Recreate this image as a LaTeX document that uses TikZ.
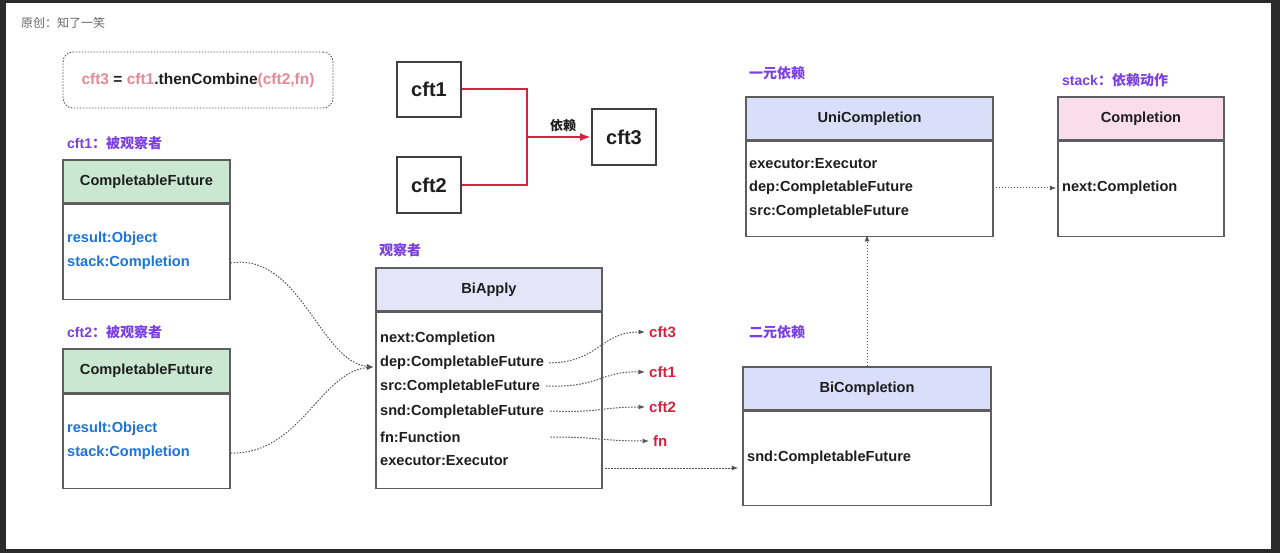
\documentclass[tikz,border=0pt]{standalone}
\usepackage{fontspec}
\setmainfont{Liberation Sans}
\newfontfamily\cjk{Noto Sans CJK SC}
\newcommand\zh[1]{{\cjk #1}}
\usetikzlibrary{arrows.meta}
\definecolor{framedark}{HTML}{2A2A2A}
\definecolor{bordergray}{HTML}{5E5E5E}
\definecolor{textdark}{HTML}{1E1E1E}
\definecolor{hdrgreen}{HTML}{C9E7D1}
\definecolor{hdrlav}{HTML}{E6E4F8}
\definecolor{hdrblue}{HTML}{D9DEF9}
\definecolor{hdrpink}{HTML}{FADDEA}
\definecolor{purp}{HTML}{7B3FE4}
\definecolor{fieldblue}{HTML}{1C74D8}
\definecolor{redc}{HTML}{D9213F}
\definecolor{pinkc}{HTML}{E58A95}
\definecolor{dotgray}{HTML}{555555}
\begin{document}
\begin{tikzpicture}[x=1pt,y=-1pt,
  hdr/.style={draw=bordergray, line width=1.2pt, inner sep=0pt, text=textdark,
    font=\bfseries\fontsize{14.6}{16}\selectfont},
  bodybox/.style={draw=bordergray, line width=1.2pt, fill=white, inner sep=0pt, anchor=north},
  fieldtxt/.style={anchor=west, inner sep=0pt, text=textdark, font=\bfseries\fontsize{14.6}{16}\selectfont},
  bluetxt/.style={fieldtxt, text=fieldblue},
  purplbl/.style={anchor=west, inner sep=0pt, text=purp, font=\bfseries\fontsize{14}{16}\selectfont},
  redlbl/.style={anchor=west, inner sep=0pt, text=redc, font=\bfseries\fontsize{15}{17}\selectfont},
  smallbox/.style={draw=textdark!85, line width=2pt, minimum width=64pt, inner sep=0pt,
    font=\bfseries\fontsize{20}{22}\selectfont, text=textdark},
  redline/.style={draw=redc, line width=2pt},
  dotarrow/.style={draw=dotgray, line width=1pt, dash pattern=on 1.5pt off 1.5pt,
    -{Latex[length=6.5pt,width=5pt]}}
]
\useasboundingbox (0,0) rectangle (1280,553);
\fill[framedark] (0,0) rectangle (1280,553);
\fill[white] (6,3) rectangle (1271,549);

% title
\node[anchor=west, inner sep=0pt, text=black!60, font=\fontsize{12}{14}\selectfont] (title) at (21,23) {\zh{原创：知了一笑}};

% equation box
\node[draw=dotgray, line width=0.9pt, dash pattern=on 1.5pt off 1.5pt, rounded corners=10pt,
  minimum width=270pt, minimum height=56pt, inner sep=0pt, text=textdark,
  font=\bfseries\fontsize{15.5}{18}\selectfont] (eq) at (198,80)
  {\textcolor{pinkc}{cft3} = \textcolor{pinkc}{cft1}.thenCombine\textcolor{pinkc}{(cft2,fn)}};

% cft1 observed
\node[purplbl] (l1) at (67,143) {cft1\zh{：被观察者}};
\node[hdr, fill=hdrgreen, minimum width=167pt, minimum height=43pt] (f1h) at (146.5,181.5) {CompletableFuture};
\node[bodybox, minimum width=167pt, minimum height=95pt] (f1b) at (f1h.south) {};
\node[bluetxt] (f1res) at (67,239) {result:Object};
\node[bluetxt] (f1stk) at (67,263) {stack:Completion};

% cft2 observed
\node[purplbl] (l2) at (67,332) {cft2\zh{：被观察者}};
\node[hdr, fill=hdrgreen, minimum width=167pt, minimum height=44pt] (f2h) at (146.5,371) {CompletableFuture};
\node[bodybox, minimum width=167pt, minimum height=94pt] (f2b) at (f2h.south) {};
\node[bluetxt] (f2res) at (67,429) {result:Object};
\node[bluetxt] (f2stk) at (67,453) {stack:Completion};

% small dependency boxes
\node[smallbox, minimum height=55pt] (c1) at (429,89.5) {cft1};
\node[smallbox, minimum height=56pt] (c2) at (429,185) {cft2};
\node[smallbox, minimum height=56pt] (c3) at (624,137) {cft3};
\coordinate (j) at (527,137);
\draw[redline] (c1.east) -| (j) |- (c2.east);
\draw[redline, -{Latex[length=11pt,width=8pt]}] (j) -- (c3.west);
\node[inner sep=0pt, text=textdark, font=\bfseries\fontsize{13}{15}\selectfont] (dep) at (563,126) {\zh{依赖}};

% BiApply observer
\node[purplbl] (l3) at (379,250) {\zh{观察者}};
\node[hdr, fill=hdrlav, minimum width=226pt, minimum height=43pt] (bah) at (489,289.5) {BiApply};
\node[bodybox, minimum width=226pt, minimum height=176pt] (bab) at (bah.south) {};
\node[fieldtxt] (bnext) at (380,339) {next:Completion};
\node[fieldtxt] (bdep) at (380,363) {dep:CompletableFuture};
\node[fieldtxt] (bsrc) at (380,387) {src:CompletableFuture};
\node[fieldtxt] (bsnd) at (380,412) {snd:CompletableFuture};
\node[fieldtxt] (bfn) at (380,437) {fn:Function};
\node[fieldtxt] (bexec) at (380,461) {executor:Executor};

\node[redlbl] (r3) at (649,332) {cft3};
\node[redlbl] (r1) at (649,372) {cft1};
\node[redlbl] (r2) at (649,407) {cft2};
\node[redlbl] (rf) at (653,441) {fn};

% UniCompletion
\node[purplbl] (l4) at (749,73) {\zh{一元依赖}};
\node[hdr, fill=hdrblue, minimum width=247pt, minimum height=43pt] (uch) at (869.5,118.5) {UniCompletion};
\node[bodybox, minimum width=247pt, minimum height=95pt] (ucb) at (uch.south) {};
\node[fieldtxt] (uexec) at (749,164) {executor:Executor};
\node[fieldtxt] (udep) at (749,188) {dep:CompletableFuture};
\node[fieldtxt] (usrc) at (749,212) {src:CompletableFuture};

% Completion
\node[purplbl] (l5) at (1062,80) {stack\zh{：依赖动作}};
\node[hdr, fill=hdrpink, minimum width=166pt, minimum height=43pt] (cph) at (1141,118.5) {Completion};
\node[bodybox, minimum width=166pt, minimum height=95pt] (cpb) at (cph.south) {};
\node[fieldtxt] (cnext) at (1062,188) {next:Completion};

% BiCompletion
\node[purplbl] (l6) at (749,332) {\zh{二元依赖}};
\node[hdr, fill=hdrblue, minimum width=248pt, minimum height=43pt] (bch) at (867,388.5) {BiCompletion};
\node[bodybox, minimum width=248pt, minimum height=94pt] (bcb) at (bch.south) {};
\node[fieldtxt] (bcsnd) at (747,458) {snd:CompletableFuture};

% connectors
\path (bab.west |- bdep) ++(-2,4) coordinate (bin);
\draw[dotarrow] (f1b.east |- f1stk) .. controls (300,252) and (320,362) .. (bin);
\draw[dotarrow] (f2b.east |- f2stk) .. controls (300,455) and (320,372) .. (bin);

\draw[dotarrow] ([xshift=5pt]bdep.east) .. controls (600,362) and (600,332) .. ([xshift=-4pt]r3.west);
\draw[dotarrow] ([xshift=6pt,yshift=1pt]bsrc.east) .. controls (600,388) and (600,371) .. ([xshift=-4pt]r1.west);
\draw[dotarrow] ([xshift=6pt,yshift=1pt]bsnd.east) .. controls (600,413) and (600,407) .. ([xshift=-4pt]r2.west);
\path (bfn.east) ++(0,0) coordinate (fnend);
\draw[dotarrow] (fnend -| bsnd.east) ++(6pt,0) .. controls (600,437) and (600,441) .. ([xshift=-4pt]rf.west);

\coordinate (ex1) at (605,468);
\draw[dotarrow] (ex1) -- ([xshift=-4pt]bcb.west |- ex1);
\draw[dotarrow] ([xshift=2pt]ucb.east |- udep) -- ([xshift=-1pt]cpb.west |- udep);
\draw[dotarrow] (bch.north) -- ([yshift=2pt]bch.north |- ucb.south);
\end{tikzpicture}
\end{document}
